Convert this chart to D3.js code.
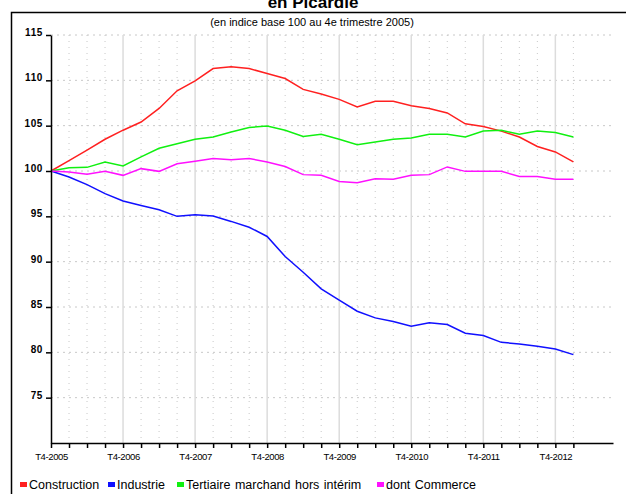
<!DOCTYPE html>
<html>
<head>
<meta charset="utf-8">
<script src="https://cdn.jsdelivr.net/npm/d3@7"></script>
<style>
  body { margin: 0; background: #fff; }
  svg { display: block; font-family: "Liberation Sans", Arial, sans-serif; }
</style>
</head>
<body>
<main></main>
<script>
// quarters from T4-2005 (index 0) to T1-2013 (index 29)
const startYear = 2005;
const nQuarters = 30;

const construction = [100, 101.15, 102.3, 103.5, 104.5, 105.4, 106.9, 108.85, 109.95, 111.3,
  111.5, 111.3, 110.76, 110.2, 109.0, 108.5, 107.9, 107.07, 107.7, 107.7,
  107.2, 106.9, 106.4, 105.2, 104.9, 104.4, 103.75, 102.7, 102.1, 101.0];
const industrie = [100, 99.34, 98.5, 97.5, 96.7, 96.2, 95.73, 95.0, 95.18, 95.03,
  94.44, 93.8, 92.78, 90.57, 88.84, 87.0, 85.75, 84.53, 83.8, 83.4,
  82.87, 83.25, 83.06, 82.1, 81.85, 81.1, 80.93, 80.66, 80.37, 79.75];
const tertiaire = [100, 100.37, 100.4, 101.0, 100.55, 101.55, 102.5, 103.0, 103.5, 103.75,
  104.3, 104.8, 104.95, 104.5, 103.8, 104.05, 103.5, 102.9, 103.2, 103.5,
  103.65, 104.05, 104.05, 103.75, 104.4, 104.5, 104.05, 104.4, 104.25, 103.75];
const commerce = [100, 99.9, 99.63, 99.96, 99.52, 100.26, 99.96, 100.8, 101.07, 101.37,
  101.25, 101.37, 101.0, 100.5, 99.6, 99.52, 98.85, 98.7, 99.15, 99.08,
  99.52, 99.6, 100.45, 99.96, 99.96, 99.96, 99.4, 99.4, 99.08, 99.08];

const seriesNames = ["Construction", "Industrie", "Tertiaire marchand hors intérim", "dont Commerce"];
const seriesColors = ["#ff2020", "#1010ff", "#10f010", "#ff10ff"];
const seriesValues = [construction, industrie, tertiaire, commerce];

const yTicks = [75, 80, 85, 90, 95, 100, 105, 110, 115];

const w = 626;
const h = 494;

const svg = d3.select("main")
  .append("svg")
  .attr("width", w)
  .attr("height", h);

// frame, runs out of the picture at right and bottom
svg.append("rect")
  .attr("x", 11.5)
  .attr("y", 12.5)
  .attr("width", 700)
  .attr("height", 600)
  .attr("fill", "none")
  .attr("stroke", "#000")
  .attr("stroke-width", 1.5);

svg.append("text")
  .attr("x", 313)
  .attr("y", 8)
  .attr("text-anchor", "middle")
  .style("font-size", "17px")
  .style("font-weight", "bold")
  .text("en Picardie");

svg.append("text")
  .attr("x", 312)
  .attr("y", 26)
  .attr("text-anchor", "middle")
  .style("font-size", "11px")
  .text("(en indice base 100 au 4e trimestre 2005)");

const x = d3.scaleLinear().domain([0, 31.2]).range([51, 613]);
const y = d3.scaleLinear().domain([70, 115]).range([443, 35]);

const grid = svg.append("g");

grid.selectAll("line.hgrid")
  .data(yTicks)
  .enter()
  .append("line")
  .attr("class", "hgrid")
  .attr("x1", x(0))
  .attr("x2", x.range()[1])
  .attr("y1", d => y(d))
  .attr("y2", d => y(d))
  .attr("stroke", "#c8c8c8")
  .attr("stroke-dasharray", "2,4");

grid.selectAll("line.vgrid")
  .data(d3.range(1, nQuarters))
  .enter()
  .append("line")
  .attr("class", "vgrid")
  .attr("x1", d => x(d))
  .attr("x2", d => x(d))
  .attr("y1", y(115))
  .attr("y2", y(70))
  .attr("stroke", d => d % 4 == 0 ? "#dcdcdc" : "#c8c8c8")
  .attr("stroke-width", d => d % 4 == 0 ? 1.5 : 1)
  .attr("stroke-dasharray", d => d % 4 == 0 ? null : "1,5");

const line = d3.line()
  .x((d, i) => x(i))
  .y(d => y(d));

svg.selectAll("path.serie")
  .data(seriesValues)
  .enter()
  .append("path")
  .attr("class", "serie")
  .attr("d", d => line(d))
  .attr("fill", "none")
  .attr("stroke", (d, i) => seriesColors[i])
  .attr("stroke-width", 1.5);

const xAxis = svg.append("g")
  .attr("transform", `translate(0,${y(70)})`)
  .call(d3.axisBottom(x)
    .tickValues(d3.range(0, nQuarters))
    .tickSize(5)
    .tickSizeOuter(0)
    .tickFormat(i => i % 4 == 0 ? "T4-" + (startYear + i / 4) : ""));

xAxis.selectAll("text")
  .attr("dy", "0.9em")
  .style("font-size", "9.5px")
  .style("letter-spacing", "-0.4px")
  .attr("fill", "#000");

const yAxis = svg.append("g")
  .attr("transform", `translate(${x(0)},0)`)
  .call(d3.axisLeft(y)
    .tickValues(yTicks)
    .tickSize(5)
    .tickSizeOuter(0));

yAxis.selectAll("text")
  .attr("x", -8)
  .attr("dy", "0.05em")
  .style("font-size", "10px")
  .style("font-weight", "bold")
  .style("letter-spacing", "0.6px")
  .attr("fill", "#000");

svg.selectAll(".domain, .tick line")
  .attr("stroke", "#000")
  .attr("stroke-width", 1.5);

// legend
const legendX = [20, 108, 177, 377];
const legend = svg.selectAll("g.legend")
  .data(seriesNames)
  .enter()
  .append("g")
  .attr("class", "legend")
  .attr("transform", (d, i) => `translate(${legendX[i]},0)`);

legend.append("rect")
  .attr("x", 0)
  .attr("y", 482)
  .attr("width", 7)
  .attr("height", 5)
  .attr("fill", (d, i) => seriesColors[i]);

legend.append("text")
  .attr("x", 9)
  .attr("y", 489)
  .style("font-size", "12.5px")
  .style("word-spacing", "1px")
  .text(d => d);
</script>
</body>
</html>
